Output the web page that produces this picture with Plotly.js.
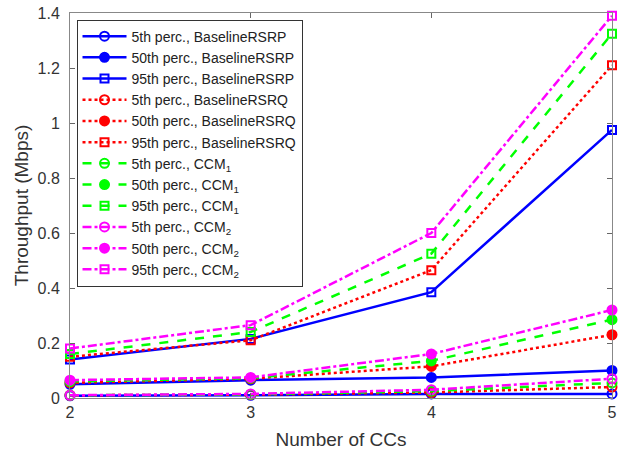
<!DOCTYPE html>
<html>
<head>
<meta charset="utf-8">
<script src="https://cdn.plot.ly/plotly-3.0.1.min.js"></script>
<style>html,body{margin:0;padding:0;background:#fff;}#chart{width:630px;height:456px;}</style>
</head>
<body>
<div id="chart"></div>
<script>
const ccs = [2, 3, 4, 5];

const rsrp5  = [0.008, 0.010, 0.015, 0.015];
const rsrp50 = [0.050, 0.065, 0.075, 0.100];
const rsrp95 = [0.140, 0.215, 0.385, 0.975];

const rsrq5  = [0.010, 0.012, 0.020, 0.040];
const rsrq50 = [0.055, 0.070, 0.115, 0.230];
const rsrq95 = [0.150, 0.210, 0.465, 1.210];

const ccm1_5  = [0.010, 0.013, 0.025, 0.055];
const ccm1_50 = [0.060, 0.072, 0.135, 0.285];
const ccm1_95 = [0.160, 0.240, 0.525, 1.325];

const ccm2_5  = [0.010, 0.015, 0.030, 0.070];
const ccm2_50 = [0.065, 0.075, 0.160, 0.320];
const ccm2_95 = [0.180, 0.265, 0.600, 1.390];

const names = [
  '5th perc., BaselineRSRP', '50th perc., BaselineRSRP', '95th perc., BaselineRSRP',
  '5th perc., BaselineRSRQ', '50th perc., BaselineRSRQ', '95th perc., BaselineRSRQ',
  '5th perc., CCM<sub>1</sub>', '50th perc., CCM<sub>1</sub>', '95th perc., CCM<sub>1</sub>',
  '5th perc., CCM<sub>2</sub>', '50th perc., CCM<sub>2</sub>', '95th perc., CCM<sub>2</sub>'
];
const series = [rsrp5, rsrp50, rsrp95, rsrq5, rsrq50, rsrq95, ccm1_5, ccm1_50, ccm1_95, ccm2_5, ccm2_50, ccm2_95];
const colors = ['#0000ff', '#ff0000', '#00ff00', '#ff00ff'];
const dashes = ['solid', 'dot', 'dash', 'dashdot'];
const symbols = ['circle-open', 'circle', 'square-open'];
const sizes = [9, 9, 8];

const traces = series.map((y, i) => {
  const g = Math.floor(i / 3), p = i % 3;
  return {
    x: ccs, y: y, name: names[i], type: 'scatter', mode: 'lines+markers',
    cliponaxis: false,
    line: {color: colors[g], dash: dashes[g], width: 2.5},
    marker: {symbol: symbols[p], size: sizes[p], color: colors[g], line: {color: colors[g], width: 2}}
  };
});

const layout = {
  width: 630, height: 456,
  margin: {l: 70, r: 18, t: 13, b: 58},
  paper_bgcolor: '#fff', plot_bgcolor: '#fff',
  font: {family: 'Liberation Sans, Arial, sans-serif', size: 14, color: '#333'},
  showlegend: true,
  legend: {
    x: 0.012, y: 0.983, xanchor: 'left', yanchor: 'top',
    bgcolor: '#fff', bordercolor: '#333', borderwidth: 1,
    font: {size: 14, color: '#222'}, tracegroupgap: 0, itemwidth: 44
  },
  xaxis: {
    range: [2, 5], tickvals: ccs, ticktext: ['2', '3', '4', '5'],
    ticks: 'inside', ticklen: 5, tickcolor: '#666',
    showline: true, linecolor: '#888', linewidth: 1, mirror: 'ticks',
    showgrid: false, zeroline: false,
    tickfont: {size: 16, color: '#333'},
    title: {text: 'Number of CCs', font: {size: 19, color: '#333'}, standoff: 12}
  },
  yaxis: {
    range: [0, 1.4], tickvals: [0, 0.2, 0.4, 0.6, 0.8, 1, 1.2, 1.4],
    ticktext: ['0', '0.2', '0.4', '0.6', '0.8', '1', '1.2', '1.4'],
    ticks: 'inside', ticklen: 5, tickcolor: '#666',
    showline: true, linecolor: '#888', linewidth: 1, mirror: 'ticks',
    showgrid: false, zeroline: false,
    ticklabelstandoff: 6,
    tickfont: {size: 16, color: '#333'},
    title: {text: 'Throughput (Mbps)', font: {size: 19, color: '#333'}, standoff: 3}
  }
};

Plotly.newPlot('chart', traces, layout, {displayModeBar: false, staticPlot: true});
</script>
</body>
</html>
